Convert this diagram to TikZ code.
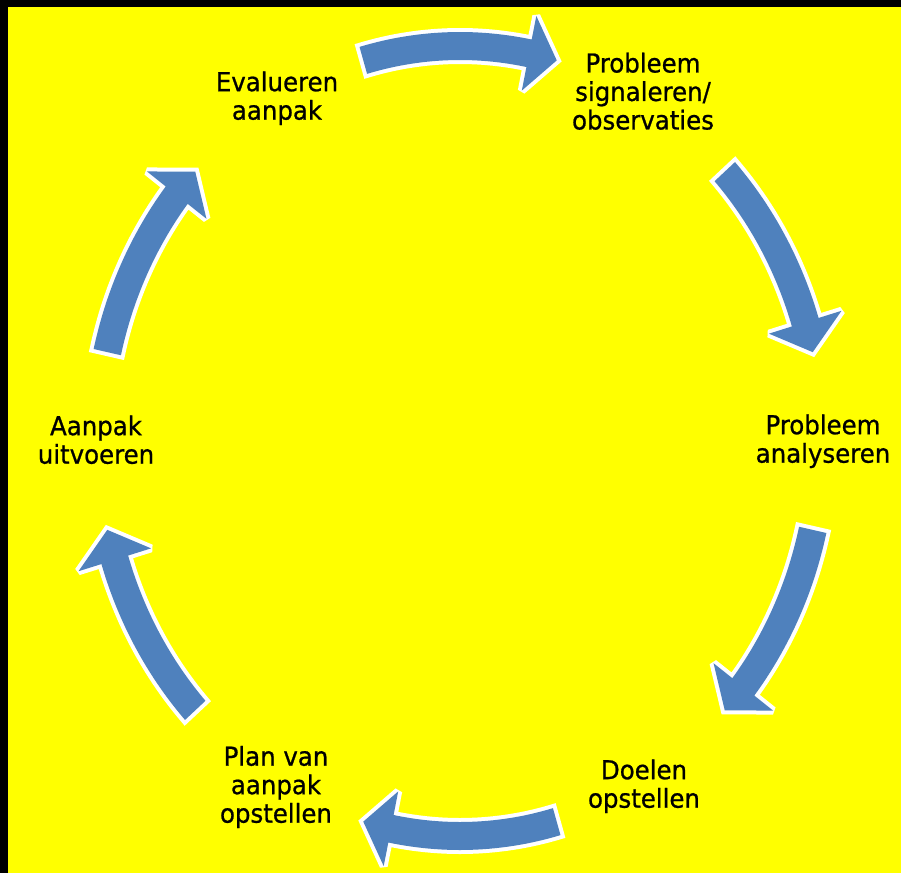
\documentclass[tikz,border=0pt]{standalone}
\usepackage{fontspec}
\newfontfamily\labelfont{DejaVu Sans}[FakeStretch=0.94,FakeBold=0.8]
\definecolor{cyclebg}{HTML}{FFFF00}
\definecolor{arrowblue}{HTML}{4F81BD}
\tikzset{
  lbl/.style={font=\labelfont\fontsize{26}{28.5}\selectfont, align=center, anchor=north, inner sep=0pt, text=black},
  cyc/.style={fill=arrowblue, preaction={draw=white, line width=8pt, line join=miter, miter limit=2.2}},
}
\newcommand\cyclearrow[2]{%
  \pgfmathsetmacro\arrA{#1}%
  \pgfmathsetmacro\arrC{#2}%
  \pgfmathsetmacro\arrB{#2-4.5}%
  \path[cyc] plot[domain=0:1,samples=30,variable=\s]
      ({460+376*cos(\arrA+(\arrB-\arrA)*\s)},{441+409*sin(\arrA+(\arrB-\arrA)*\s)})
    -- ({460+400*cos(\arrB)},{441+433*sin(\arrB)})
    -- ({460+362*cos(\arrC)},{441+395*sin(\arrC)})
    -- ({460+324*cos(\arrB)},{441+357*sin(\arrB)})
    -- plot[domain=0:1,samples=30,variable=\s]
      ({460+348*cos(\arrB+(\arrA-\arrB)*\s)},{441+381*sin(\arrB+(\arrA-\arrB)*\s)})
    -- cycle;
}
\begin{document}
\begin{tikzpicture}[x=1pt,y=-1pt]
\useasboundingbox (0,0) rectangle (901,873);
\fill[black] (0,0) rectangle (901,873);
\fill[cyclebg] (8,7) rectangle (901,873);
\cyclearrow{-105.5}{-74.5}
\cyclearrow{-43}{-13}
\cyclearrow{13}{43}
\cyclearrow{74.5}{105.5}
\cyclearrow{137}{167}
\cyclearrow{193}{223}
\node[lbl] (evalueren) at (277,71.2) {Evalueren\\aanpak};
\node[lbl] (signaleren) at (643,52.5) {Probleem\\signaleren/\\observaties};
\node[lbl] (analyseren) at (823,414.2) {Probleem\\analyseren};
\node[lbl] (doelen) at (644,759.2) {Doelen\\opstellen};
\node[lbl] (plan) at (276,745.7) {Plan van\\aanpak\\opstellen};
\node[lbl] (uitvoeren) at (96,415.2) {Aanpak\\uitvoeren};
\end{tikzpicture}
\end{document}
